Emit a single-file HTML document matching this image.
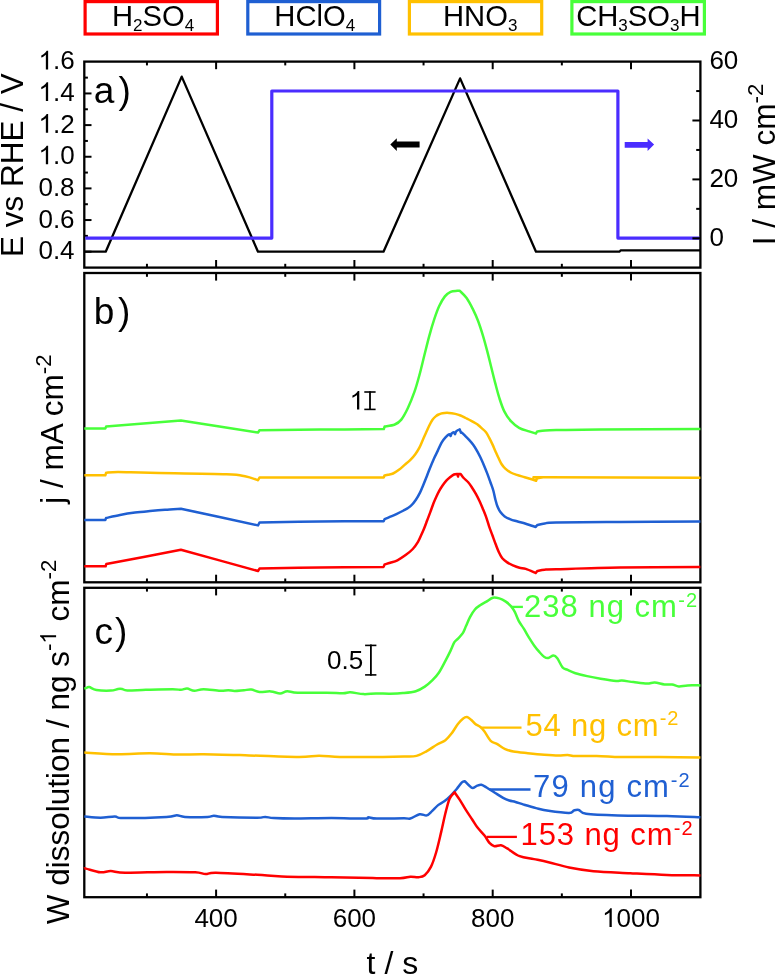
<!DOCTYPE html>
<html><head><meta charset="utf-8"><style>
html,body{margin:0;padding:0;background:#fff;}
svg{display:block;will-change:transform;}
text{font-family:"Liberation Sans",sans-serif;}
</style></head><body>
<svg width="776" height="975" viewBox="0 0 776 975">
<rect width="776" height="975" fill="#fff"/>
<rect x="85.1" y="1.6" width="132.3" height="32.4" fill="none" stroke="#FF0000" stroke-width="3.2"/>
<text x="112" y="25.6" font-size="29.2" text-anchor="start" fill="#000" >H<tspan font-size="17" dy="5.8">2</tspan><tspan dy="-5.8">SO</tspan><tspan font-size="17" dy="5.8">4</tspan></text>
<rect x="247.8" y="1.6" width="131.8" height="32.4" fill="none" stroke="#1F5FD2" stroke-width="3.2"/>
<text x="274.3" y="25.6" font-size="29.2" text-anchor="start" fill="#000" >HClO<tspan font-size="17" dy="5.8">4</tspan></text>
<rect x="409.4" y="1.6" width="132.3" height="32.4" fill="none" stroke="#FFC000" stroke-width="3.2"/>
<text x="443" y="25.6" font-size="29.2" text-anchor="start" fill="#000" >HNO<tspan font-size="17" dy="5.8">3</tspan></text>
<rect x="571.9" y="1.6" width="132.5" height="32.4" fill="none" stroke="#48FF3A" stroke-width="3.2"/>
<text x="576.2" y="25.6" font-size="29.2" text-anchor="start" fill="#000" >CH<tspan font-size="17" dy="5.8">3</tspan><tspan dy="-5.8">SO</tspan><tspan font-size="17" dy="5.8">3</tspan><tspan dy="-5.8">H</tspan></text>
<rect x="84.3" y="61.6" width="616.1" height="206" fill="none" stroke="#000" stroke-width="2.3"/>
<line x1="146.95" y1="267.6" x2="146.95" y2="263.8" stroke="#000" stroke-width="2"/>
<line x1="146.95" y1="61.6" x2="146.95" y2="65.4" stroke="#000" stroke-width="2"/>
<line x1="216.1" y1="267.6" x2="216.1" y2="260" stroke="#000" stroke-width="2"/>
<line x1="216.1" y1="61.6" x2="216.1" y2="69.2" stroke="#000" stroke-width="2"/>
<line x1="285.25" y1="267.6" x2="285.25" y2="263.8" stroke="#000" stroke-width="2"/>
<line x1="285.25" y1="61.6" x2="285.25" y2="65.4" stroke="#000" stroke-width="2"/>
<line x1="354.4" y1="267.6" x2="354.4" y2="260" stroke="#000" stroke-width="2"/>
<line x1="354.4" y1="61.6" x2="354.4" y2="69.2" stroke="#000" stroke-width="2"/>
<line x1="423.55" y1="267.6" x2="423.55" y2="263.8" stroke="#000" stroke-width="2"/>
<line x1="423.55" y1="61.6" x2="423.55" y2="65.4" stroke="#000" stroke-width="2"/>
<line x1="492.7" y1="267.6" x2="492.7" y2="260" stroke="#000" stroke-width="2"/>
<line x1="492.7" y1="61.6" x2="492.7" y2="69.2" stroke="#000" stroke-width="2"/>
<line x1="561.85" y1="267.6" x2="561.85" y2="263.8" stroke="#000" stroke-width="2"/>
<line x1="561.85" y1="61.6" x2="561.85" y2="65.4" stroke="#000" stroke-width="2"/>
<line x1="631" y1="267.6" x2="631" y2="260" stroke="#000" stroke-width="2"/>
<line x1="631" y1="61.6" x2="631" y2="69.2" stroke="#000" stroke-width="2"/>
<rect x="84.3" y="273" width="616.1" height="309.3" fill="none" stroke="#000" stroke-width="2.3"/>
<line x1="146.95" y1="582.3" x2="146.95" y2="578.5" stroke="#000" stroke-width="2"/>
<line x1="146.95" y1="273" x2="146.95" y2="276.8" stroke="#000" stroke-width="2"/>
<line x1="216.1" y1="582.3" x2="216.1" y2="574.7" stroke="#000" stroke-width="2"/>
<line x1="216.1" y1="273" x2="216.1" y2="280.6" stroke="#000" stroke-width="2"/>
<line x1="285.25" y1="582.3" x2="285.25" y2="578.5" stroke="#000" stroke-width="2"/>
<line x1="285.25" y1="273" x2="285.25" y2="276.8" stroke="#000" stroke-width="2"/>
<line x1="354.4" y1="582.3" x2="354.4" y2="574.7" stroke="#000" stroke-width="2"/>
<line x1="354.4" y1="273" x2="354.4" y2="280.6" stroke="#000" stroke-width="2"/>
<line x1="423.55" y1="582.3" x2="423.55" y2="578.5" stroke="#000" stroke-width="2"/>
<line x1="423.55" y1="273" x2="423.55" y2="276.8" stroke="#000" stroke-width="2"/>
<line x1="492.7" y1="582.3" x2="492.7" y2="574.7" stroke="#000" stroke-width="2"/>
<line x1="492.7" y1="273" x2="492.7" y2="280.6" stroke="#000" stroke-width="2"/>
<line x1="561.85" y1="582.3" x2="561.85" y2="578.5" stroke="#000" stroke-width="2"/>
<line x1="561.85" y1="273" x2="561.85" y2="276.8" stroke="#000" stroke-width="2"/>
<line x1="631" y1="582.3" x2="631" y2="574.7" stroke="#000" stroke-width="2"/>
<line x1="631" y1="273" x2="631" y2="280.6" stroke="#000" stroke-width="2"/>
<rect x="84.3" y="587.8" width="616.1" height="309.4" fill="none" stroke="#000" stroke-width="2.3"/>
<line x1="146.95" y1="897.2" x2="146.95" y2="893.4" stroke="#000" stroke-width="2"/>
<line x1="146.95" y1="587.8" x2="146.95" y2="591.6" stroke="#000" stroke-width="2"/>
<line x1="216.1" y1="897.2" x2="216.1" y2="889.6" stroke="#000" stroke-width="2"/>
<line x1="216.1" y1="587.8" x2="216.1" y2="595.4" stroke="#000" stroke-width="2"/>
<line x1="285.25" y1="897.2" x2="285.25" y2="893.4" stroke="#000" stroke-width="2"/>
<line x1="285.25" y1="587.8" x2="285.25" y2="591.6" stroke="#000" stroke-width="2"/>
<line x1="354.4" y1="897.2" x2="354.4" y2="889.6" stroke="#000" stroke-width="2"/>
<line x1="354.4" y1="587.8" x2="354.4" y2="595.4" stroke="#000" stroke-width="2"/>
<line x1="423.55" y1="897.2" x2="423.55" y2="893.4" stroke="#000" stroke-width="2"/>
<line x1="423.55" y1="587.8" x2="423.55" y2="591.6" stroke="#000" stroke-width="2"/>
<line x1="492.7" y1="897.2" x2="492.7" y2="889.6" stroke="#000" stroke-width="2"/>
<line x1="492.7" y1="587.8" x2="492.7" y2="595.4" stroke="#000" stroke-width="2"/>
<line x1="561.85" y1="897.2" x2="561.85" y2="893.4" stroke="#000" stroke-width="2"/>
<line x1="561.85" y1="587.8" x2="561.85" y2="591.6" stroke="#000" stroke-width="2"/>
<line x1="631" y1="897.2" x2="631" y2="889.6" stroke="#000" stroke-width="2"/>
<line x1="631" y1="587.8" x2="631" y2="595.4" stroke="#000" stroke-width="2"/>
<line x1="84.3" y1="251.7" x2="91.5" y2="251.7" stroke="#000" stroke-width="2"/>
<line x1="84.3" y1="235.88" x2="87.9" y2="235.88" stroke="#000" stroke-width="2"/>
<line x1="84.3" y1="220.05" x2="91.5" y2="220.05" stroke="#000" stroke-width="2"/>
<line x1="84.3" y1="204.23" x2="87.9" y2="204.23" stroke="#000" stroke-width="2"/>
<line x1="84.3" y1="188.4" x2="91.5" y2="188.4" stroke="#000" stroke-width="2"/>
<line x1="84.3" y1="172.57" x2="87.9" y2="172.57" stroke="#000" stroke-width="2"/>
<line x1="84.3" y1="156.75" x2="91.5" y2="156.75" stroke="#000" stroke-width="2"/>
<line x1="84.3" y1="140.93" x2="87.9" y2="140.93" stroke="#000" stroke-width="2"/>
<line x1="84.3" y1="125.1" x2="91.5" y2="125.1" stroke="#000" stroke-width="2"/>
<line x1="84.3" y1="109.28" x2="87.9" y2="109.28" stroke="#000" stroke-width="2"/>
<line x1="84.3" y1="93.45" x2="91.5" y2="93.45" stroke="#000" stroke-width="2"/>
<line x1="84.3" y1="77.63" x2="87.9" y2="77.63" stroke="#000" stroke-width="2"/>
<line x1="700.4" y1="238.3" x2="692.4" y2="238.3" stroke="#000" stroke-width="2"/>
<line x1="700.4" y1="208.85" x2="696.2" y2="208.85" stroke="#000" stroke-width="2"/>
<line x1="700.4" y1="179.4" x2="692.4" y2="179.4" stroke="#000" stroke-width="2"/>
<line x1="700.4" y1="149.95" x2="696.2" y2="149.95" stroke="#000" stroke-width="2"/>
<line x1="700.4" y1="120.5" x2="692.4" y2="120.5" stroke="#000" stroke-width="2"/>
<line x1="700.4" y1="91.05" x2="696.2" y2="91.05" stroke="#000" stroke-width="2"/>
<text x="74.6" y="69.4" font-size="26" text-anchor="end" fill="#000" ><tspan class="one">&#x2007;</tspan>.6</text>
<text x="74.6" y="101.05" font-size="26" text-anchor="end" fill="#000" ><tspan class="one">&#x2007;</tspan>.4</text>
<text x="74.6" y="132.7" font-size="26" text-anchor="end" fill="#000" ><tspan class="one">&#x2007;</tspan>.2</text>
<text x="74.6" y="164.35" font-size="26" text-anchor="end" fill="#000" ><tspan class="one">&#x2007;</tspan>.0</text>
<text x="74.6" y="196" font-size="26" text-anchor="end" fill="#000" >0.8</text>
<text x="74.6" y="227.65" font-size="26" text-anchor="end" fill="#000" >0.6</text>
<text x="74.6" y="259.3" font-size="26" text-anchor="end" fill="#000" >0.4</text>
<text x="709.4" y="68.8" font-size="26" text-anchor="start" fill="#000" >60</text>
<text x="709.4" y="127.7" font-size="26" text-anchor="start" fill="#000" >40</text>
<text x="709.4" y="186.6" font-size="26" text-anchor="start" fill="#000" >20</text>
<text x="709.4" y="245.5" font-size="26" text-anchor="start" fill="#000" >0</text>
<text x="216.1" y="927" font-size="26" text-anchor="middle" fill="#000" >400</text>
<text x="354.4" y="927" font-size="26" text-anchor="middle" fill="#000" >600</text>
<text x="492.7" y="927" font-size="26" text-anchor="middle" fill="#000" >800</text>
<text x="631" y="927" font-size="26" text-anchor="middle" fill="#000" ><tspan class="one">&#x2007;</tspan>000</text>
<text x="392.4" y="974.2" font-size="32" text-anchor="middle" fill="#000" >t / s</text>
<text transform="translate(23.2,257.0) rotate(-90)" font-size="31.5">E vs RHE / V</text>
<text transform="translate(775.0,245.2) rotate(-90)" font-size="31.5">I / mW cm<tspan font-size="22.3" dy="-12.5">-2</tspan></text>
<text transform="translate(63.2,503.8) rotate(-90)" font-size="31.5">j / mA cm<tspan font-size="22.3" dy="-12.5">-2</tspan></text>
<text transform="translate(68.6,924.2) rotate(-90)" font-size="31.5">W dissolution / ng s<tspan font-size="22.3" dy="-12.5">-<tspan class="one">&#x2007;</tspan></tspan><tspan dy="12.5" dx="1"> cm</tspan><tspan font-size="22.3" dy="-12.5">-2</tspan></text>
<text x="93.8" y="103.2" font-size="37" text-anchor="start" fill="#000" >a<tspan dx="4.2">)</tspan></text>
<text x="93.8" y="323.8" font-size="37" text-anchor="start" fill="#000" >b<tspan dx="3.5">)</tspan></text>
<text x="94.4" y="644" font-size="37" text-anchor="start" fill="#000" >c<tspan dx="2.2">)</tspan></text>
<path d="M84.3 251.7 L105.7 251.7 L181.7 76.6 L258 251.7 L383.5 251.7 L460.1 78.4 L536 251.7 L619.4 251.7 L620.8 250.3 L700.4 250.3" fill="none" stroke="#000" stroke-width="2.3" stroke-linejoin="round"/>
<path d="M85.3 238.1 L271.8 238.1 L271.8 91 L617.9 91 L617.9 238.1 L699.4 238.1" fill="none" stroke="#4A2DFF" stroke-width="3.2" stroke-linejoin="round"/>
<line x1="700.4" y1="238.3" x2="692.4" y2="238.3" stroke="#000" stroke-width="2"/>
<path d="M390.3 144.5 L396.8 138.2 L396.8 141.5 L419.6 141.5 L419.6 147.5 L396.8 147.5 L396.8 150.9 Z" fill="#000"/>
<path d="M654.1 144.5 L647.6 138.6 L647.6 141.9 L624.7 141.9 L624.7 147.8 L647.6 147.8 L647.6 150.9 Z" fill="#4A2DFF"/>
<path d="M84.3 428.6 C87.8 428.6 101.8 428.6 105.3 428.6 C105.43 428.27 105.97 426.93 106.1 426.6 C118.57 425.57 168.43 421.43 180.9 420.4 C193.75 422.43 245.15 430.57 258 432.6 C258.25 432.22 259.25 430.68 259.5 430.3 C269.58 430.18 299.28 429.8 320 429.6 C340.72 429.4 373.17 429.18 383.8 429.1 C383.93 428.67 384.47 426.93 384.6 426.5 C386.3 426.17 392.02 425.65 394.8 424.5 C397.58 423.35 399.12 422.35 401.3 419.6 C403.48 416.85 405.7 412.65 407.9 408 C410.1 403.35 412.58 397.17 414.5 391.7 C416.42 386.23 417.77 381.23 419.4 375.2 C421.03 369.17 422.65 362.07 424.3 355.5 C425.95 348.93 427.65 341.82 429.3 335.8 C430.95 329.78 432.57 324.32 434.2 319.4 C435.83 314.48 437.32 310.13 439.1 306.3 C440.88 302.47 442.98 298.82 444.9 296.4 C446.82 293.98 448.55 292.73 450.6 291.8 C452.65 290.87 455.7 290.98 457.2 290.8 C458.7 290.62 459.2 290.72 459.6 290.7 C460.77 291.92 464.35 294.85 466.6 298 C468.85 301.15 471.18 305.77 473.1 309.6 C475.02 313.43 476.45 316.63 478.1 321 C479.75 325.37 481.5 330.87 483 335.8 C484.5 340.73 485.73 345.4 487.1 350.6 C488.47 355.8 489.83 361.53 491.2 367 C492.57 372.47 493.93 378.2 495.3 383.4 C496.67 388.6 497.9 393.53 499.4 398.2 C500.9 402.87 502.38 407.57 504.3 411.4 C506.22 415.23 508.43 418.47 510.9 421.2 C513.37 423.93 516.08 426.1 519.1 427.8 C522.12 429.5 526.2 430.45 529 431.4 C531.8 432.35 534.75 433.15 535.9 433.5 C536.12 433.15 536.98 431.75 537.2 431.4 C538.57 431.23 541.6 430.63 545.4 430.4 C549.2 430.17 550.9 430.17 560 430 C569.1 429.83 576.6 429.58 600 429.4 C623.4 429.22 683.67 428.98 700.4 428.9" fill="none" stroke="#48FF3A" stroke-width="2.5" stroke-linejoin="round"/>
<path d="M84.3 475.3 C87.8 475.3 101.8 475.3 105.3 475.3 C105.43 474.88 105.97 473.22 106.1 472.8 C108.08 472.67 110.68 472 118 472 C125.32 472 131.92 472.42 150 472.8 C168.08 473.18 210.67 473.72 226.5 474.3 C242.33 474.88 239.75 475.32 245 476.3 C250.25 477.28 255.83 479.55 258 480.2 C258.25 479.77 259.25 478.03 259.5 477.6 C269.58 477.6 299.3 477.6 320 477.6 C340.7 477.6 373.08 477.6 383.7 477.6 C383.83 477.25 384.37 475.85 384.5 475.5 C385.12 475.37 386.77 475.03 388.2 474.7 C389.63 474.37 391.32 474.32 393.1 473.5 C394.88 472.68 396.98 471.23 398.9 469.8 C400.82 468.37 402.68 466.55 404.6 464.9 C406.52 463.25 408.62 461.68 410.4 459.9 C412.18 458.12 413.8 456.25 415.3 454.2 C416.8 452.15 418.17 449.93 419.4 447.6 C420.63 445.27 421.6 442.67 422.7 440.2 C423.8 437.73 424.9 435.25 426 432.8 C427.1 430.35 428.22 427.68 429.3 425.5 C430.38 423.32 431.38 421.27 432.5 419.7 C433.62 418.13 434.98 416.97 436 416.1 C437.02 415.23 437.53 414.98 438.6 414.5 C439.67 414.02 440.68 413.47 442.4 413.2 C444.12 412.93 446.75 412.78 448.9 412.9 C451.05 413.02 453.37 413.47 455.3 413.9 C457.23 414.33 458.78 414.82 460.5 415.5 C462.22 416.18 463.88 417.15 465.6 418 C467.32 418.85 469.07 419.68 470.8 420.6 C472.53 421.52 474.82 422.8 476 423.5 C477.18 424.2 477.58 424.58 477.9 424.8 C478.43 425.28 479.75 426.45 481.1 427.7 C482.45 428.95 484.67 430.63 486 432.3 C487.33 433.97 488.07 435.77 489.1 437.7 C490.13 439.63 491.17 441.7 492.2 443.9 C493.23 446.1 494.27 448.58 495.3 450.9 C496.33 453.22 497.37 455.62 498.4 457.8 C499.43 459.98 500.35 462.18 501.5 464 C502.65 465.82 503.77 467.28 505.3 468.7 C506.83 470.12 508.77 471.47 510.7 472.5 C512.63 473.53 514.57 474.12 516.9 474.9 C519.23 475.68 522.12 476.43 524.7 477.2 C527.28 477.97 530.5 478.92 532.4 479.5 C534.3 480.08 535.48 480.5 536.1 480.7 C536.25 480.3 536.85 478.7 537 478.3 C537.78 478.18 540.2 477.77 541.7 477.6 C543.2 477.43 519.55 477.27 546 477.3 C572.45 477.33 674.67 477.72 700.4 477.8" fill="none" stroke="#FFC000" stroke-width="2.5" stroke-linejoin="round"/>
<path d="M84.3 520.1 C87.8 520.1 101.8 520.1 105.3 520.1 C105.43 519.75 105.97 518.35 106.1 518 C108.42 517.5 115.18 515.9 120 515 C124.82 514.1 130 513.27 135 512.6 C140 511.93 145 511.48 150 511 C155 510.52 159.85 510.08 165 509.7 C170.15 509.32 178.25 508.87 180.9 508.7 C193.75 511.48 245.15 522.62 258 525.4 C258.25 524.92 259.25 522.98 259.5 522.5 C269.58 522.33 299.32 521.7 320 521.5 C340.68 521.3 373 521.33 383.6 521.3 C383.77 520.95 384.43 519.55 384.6 519.2 C385.55 518.78 388.33 517.55 390.3 516.7 C392.27 515.85 394.18 515.13 396.4 514.1 C398.62 513.07 401.2 511.87 403.6 510.5 C406 509.13 408.75 507.7 410.8 505.9 C412.85 504.1 414.37 501.92 415.9 499.7 C417.43 497.48 418.8 494.98 420 492.6 C421.2 490.22 422.07 487.88 423.1 485.4 C424.13 482.92 425.15 480.35 426.2 477.7 C427.25 475.05 428.12 472.67 429.4 469.5 C430.68 466.33 432.52 461.8 433.9 458.7 C435.28 455.6 436.42 453.58 437.7 450.9 C438.98 448.22 440.3 444.85 441.6 442.6 C442.9 440.35 444.22 438.8 445.5 437.4 C446.78 436 448.45 434.43 449.3 434.2 C450.15 433.97 450.38 435.7 450.6 436 C450.75 435.6 451.35 434 451.5 433.6 C451.88 433.37 453.22 432.1 453.8 432.2 C454.38 432.3 454.8 433.87 455 434.2 C455.17 433.77 455.83 432.03 456 431.6 C456.28 431.38 457.08 430.67 457.7 430.3 C458.32 429.93 459.37 429.55 459.7 429.4 C459.92 429.97 460.78 432.23 461 432.8 C461.13 432.77 461.67 432.63 461.8 432.6 C462.2 432.98 462.98 433.7 464.2 434.9 C465.42 436.1 467.6 438.17 469.1 439.8 C470.6 441.43 471.83 442.78 473.2 444.7 C474.57 446.62 476.07 449.12 477.3 451.3 C478.53 453.48 479.5 455.48 480.6 457.8 C481.7 460.12 482.8 462.6 483.9 465.2 C485 467.8 486.1 470.52 487.2 473.4 C488.3 476.28 489.48 479.65 490.5 482.5 C491.52 485.35 492.47 487.58 493.3 490.5 C494.13 493.42 494.8 497.32 495.5 500 C496.2 502.68 496.65 504.55 497.5 506.6 C498.35 508.65 499.4 510.67 500.6 512.3 C501.8 513.93 503.05 515.23 504.7 516.4 C506.35 517.57 508.45 518.48 510.5 519.3 C512.55 520.12 514.45 520.55 517 521.3 C519.55 522.05 522.68 522.85 525.8 523.8 C528.92 524.75 534.05 526.47 535.7 527 C535.97 526.67 537.03 525.33 537.3 525 C538.53 524.73 541.58 523.82 544.7 523.4 C547.82 522.98 543.45 522.73 556 522.5 C568.55 522.27 595.93 522.15 620 522 C644.07 521.85 687 521.67 700.4 521.6" fill="none" stroke="#1F5FD2" stroke-width="2.5" stroke-linejoin="round"/>
<path d="M84.3 566.3 C87.85 566.3 102.05 566.3 105.6 566.3 C105.72 565.92 106.18 564.38 106.3 564 C118.73 561.63 168.47 552.17 180.9 549.8 C193.75 553.33 245.15 567.47 258 571 C258.25 570.6 259.25 569 259.5 568.6 C269.58 568.42 299.32 567.78 320 567.5 C340.68 567.22 373 567 383.6 566.9 C383.77 566.48 384.43 564.82 384.6 564.4 C385.55 564.13 388.17 563.48 390.3 562.8 C392.43 562.12 394.85 561.58 397.4 560.3 C399.95 559.02 403.03 556.98 405.6 555.1 C408.17 553.22 410.73 551.22 412.8 549 C414.87 546.78 416.63 544.03 418 541.8 C419.37 539.57 419.98 537.82 421 535.6 C422.02 533.38 423.07 531.05 424.1 528.5 C425.13 525.95 426.17 523.03 427.2 520.3 C428.23 517.57 429.28 514.85 430.3 512.1 C431.32 509.35 432.32 506.32 433.3 503.8 C434.28 501.28 435.22 499.15 436.2 497 C437.18 494.85 438.17 492.77 439.2 490.9 C440.23 489.03 441.22 487.52 442.4 485.8 C443.58 484.08 445 482.05 446.3 480.6 C447.6 479.15 448.92 478.12 450.2 477.1 C451.48 476.08 452.78 475.02 454 474.5 C455.22 473.98 456.92 474.08 457.5 474 C457.58 474.43 457.92 476.17 458 476.6 C458.1 476.17 458.5 474.43 458.6 474 C458.93 473.98 460.27 473.92 460.6 473.9 C461.12 474.58 462.43 476.62 463.7 478 C464.97 479.38 466.8 480.58 468.2 482.2 C469.6 483.82 470.8 485.72 472.1 487.7 C473.4 489.68 474.77 491.88 476 494.1 C477.23 496.32 478.4 498.65 479.5 501 C480.6 503.35 481.53 505.63 482.6 508.2 C483.67 510.77 484.82 513.38 485.9 516.4 C486.98 519.42 488.02 523.15 489.1 526.3 C490.18 529.45 491.3 532.3 492.4 535.3 C493.5 538.3 494.6 541.43 495.7 544.3 C496.8 547.17 497.9 550.17 499 552.5 C500.1 554.83 500.93 556.65 502.3 558.3 C503.67 559.95 505.43 561.23 507.2 562.4 C508.97 563.57 510.85 564.42 512.9 565.3 C514.95 566.18 517.35 567.1 519.5 567.7 C521.65 568.3 523.1 568.02 525.8 568.9 C528.5 569.78 534.05 572.32 535.7 573 C535.97 572.65 537.03 571.25 537.3 570.9 C538.53 570.7 541.58 569.97 544.7 569.7 C547.82 569.43 543.45 569.65 556 569.3 C568.55 568.95 595.93 568 620 567.6 C644.07 567.2 687 567.02 700.4 566.9" fill="none" stroke="#FF0000" stroke-width="2.5" stroke-linejoin="round"/>
<text x="349.6" y="409.6" font-size="26" text-anchor="start" fill="#000" ><tspan class="one">&#x2007;</tspan></text>
<line x1="370" y1="391.3" x2="370" y2="410" stroke="#000" stroke-width="1.8"/>
<line x1="364.3" y1="392" x2="375.6" y2="392" stroke="#000" stroke-width="1.6"/>
<line x1="364.3" y1="409.4" x2="375.6" y2="409.4" stroke="#000" stroke-width="1.6"/>
<path d="M84.3 688.5 C84.58 688.43 85.18 688.33 86 688.1 C86.82 687.87 87.47 686.78 89.2 687.1 C90.93 687.42 92.8 689.42 96.4 690 C100 690.58 107.2 690.77 110.8 690.6 C114.4 690.43 116.12 689.27 118 689 C119.88 688.73 120.55 688.77 122.1 689 C123.65 689.23 123.33 690.27 127.3 690.4 C131.27 690.53 138.33 690 145.9 689.8 C153.47 689.6 166.87 689.2 172.7 689.2 C178.53 689.2 178.5 689.9 180.9 689.8 C183.3 689.7 184.87 688.43 187.1 688.6 C189.33 688.77 191.55 690.7 194.3 690.8 C197.05 690.9 199.3 689.2 203.6 689.2 C207.9 689.2 215.98 690.63 220.1 690.8 C224.22 690.97 225.9 690.17 228.3 690.2 C230.7 690.23 231.88 691 234.5 691 C237.12 691 241.22 690.43 244 690.2 C246.78 689.97 248.62 689.32 251.2 689.6 C253.78 689.88 256.23 691.6 259.5 691.9 C262.77 692.2 267.37 691.13 270.8 691.4 C274.23 691.67 277.35 693.53 280.1 693.5 C282.85 693.47 284.38 691.33 287.3 691.2 C290.22 691.07 291.07 692.45 297.6 692.7 C304.13 692.95 318.93 692.6 326.5 692.7 C334.07 692.8 339.05 693.37 343 693.3 C346.95 693.23 346.77 692.17 350.2 692.3 C353.63 692.43 359.3 693.9 363.6 694.1 C367.9 694.3 371.6 693.57 376 693.5 C380.4 693.43 385.52 693.77 390 693.7 C394.48 693.63 398.6 693.52 402.9 693.1 C407.2 692.68 412.15 692.28 415.8 691.2 C419.45 690.12 422.02 688.43 424.8 686.6 C427.58 684.77 430.13 682.55 432.5 680.2 C434.87 677.85 436.85 675.72 439 672.5 C441.15 669.28 443.47 664.55 445.4 660.9 C447.33 657.25 449.1 653.72 450.6 650.6 C452.1 647.48 453.12 644.25 454.4 642.2 C455.68 640.15 456.9 639.8 458.3 638.3 C459.7 636.8 461.52 635.23 462.8 633.2 C464.08 631.17 464.8 628.78 466 626.1 C467.2 623.42 468.48 619.9 470 617.1 C471.52 614.3 473.35 611.32 475.1 609.3 C476.85 607.28 478.62 606.28 480.5 605 C482.38 603.72 484.33 602.82 486.4 601.6 C488.47 600.38 490.75 598.23 492.9 597.7 C495.05 597.17 497.15 597.75 499.3 598.4 C501.45 599.05 503.87 600.32 505.8 601.6 C507.73 602.88 509.4 604.38 510.9 606.1 C512.4 607.82 513.5 609.43 514.8 611.9 C516.1 614.37 517.2 618.1 518.7 620.9 C520.2 623.7 522.08 625.9 523.8 628.7 C525.52 631.5 527.28 634.92 529 637.7 C530.72 640.48 532.38 643.03 534.1 645.4 C535.82 647.77 537.58 649.97 539.3 651.9 C541.02 653.83 542.9 655.98 544.4 657 C545.9 658.02 546.78 658.25 548.3 658 C549.82 657.75 552 655.45 553.5 655.5 C555 655.55 555.8 656.33 557.3 658.3 C558.8 660.27 560.78 665.37 562.5 667.3 C564.22 669.23 565.45 668.92 567.6 669.9 C569.75 670.88 572.15 672.17 575.4 673.2 C578.65 674.23 582.9 675.18 587.1 676.1 C591.3 677.02 595.77 677.88 600.6 678.7 C605.43 679.52 612.55 680.68 616.1 681 C619.65 681.32 619 680.42 621.9 680.6 C624.8 680.78 629.32 681.62 633.5 682.1 C637.68 682.58 643.47 683.43 647 683.5 C650.53 683.57 651.8 682.33 654.7 682.5 C657.6 682.67 661.5 684.17 664.4 684.5 C667.3 684.83 669.68 684.18 672.1 684.5 C674.52 684.82 676.32 686.25 678.9 686.4 C681.48 686.55 684.02 685.57 687.6 685.4 C691.18 685.23 698.27 685.4 700.4 685.4" fill="none" stroke="#48FF3A" stroke-width="2.5" stroke-linejoin="round"/>
<path d="M84.3 752.5 C89.75 752.78 106.05 754.07 117 754.2 C127.95 754.33 139.7 753.23 150 753.3 C160.3 753.37 169.87 754.45 178.8 754.6 C187.73 754.75 191.9 754.07 203.6 754.2 C215.3 754.33 233.2 754.93 249 755.4 C264.8 755.87 286.73 756.93 298.4 757 C310.07 757.07 312.12 755.8 319 755.8 C325.88 755.8 330.75 756.8 339.7 757 C348.65 757.2 361.98 757.07 372.7 757 C383.42 756.93 396.7 756.78 404 756.6 C411.3 756.42 412.7 756.82 416.5 755.9 C420.3 754.98 423.37 753 426.8 751.1 C430.23 749.2 434 746.32 437.1 744.5 C440.2 742.68 443 742.02 445.4 740.2 C447.8 738.38 449.45 736.25 451.5 733.6 C453.55 730.95 455.8 726.78 457.7 724.3 C459.6 721.82 461.35 719.9 462.9 718.7 C464.45 717.5 465.63 716.92 467 717.1 C468.37 717.28 469.72 718.67 471.1 719.8 C472.48 720.93 473.75 722.7 475.3 723.9 C476.85 725.1 478.87 725.73 480.4 727 C481.93 728.27 482.78 729.2 484.5 731.5 C486.22 733.8 488.63 738.73 490.7 740.8 C492.77 742.87 494.48 742.52 496.9 743.9 C499.32 745.28 502.45 747.83 505.2 749.1 C507.95 750.37 509.63 750.82 513.4 751.5 C517.17 752.18 522.65 752.65 527.8 753.2 C532.95 753.75 539.22 754.4 544.3 754.8 C549.38 755.2 554.42 755.57 558.3 755.6 C562.18 755.63 564.7 754.92 567.6 755 C570.5 755.08 570.87 755.95 575.7 756.1 C580.53 756.25 589.25 755.75 596.6 755.9 C603.95 756.05 612.07 756.83 619.8 757 C627.53 757.17 636.43 756.9 643 756.9 C649.57 756.9 649.63 756.92 659.2 757 C668.77 757.08 693.53 757.33 700.4 757.4" fill="none" stroke="#FFC000" stroke-width="2.5" stroke-linejoin="round"/>
<path d="M84.3 816.5 C87 816.7 95.4 817.7 100.5 817.7 C105.6 817.7 111.12 816.43 114.9 816.5 C118.68 816.57 114.6 818.03 123.2 818.1 C131.8 818.17 157.57 817.37 166.5 816.9 C175.43 816.43 173.72 815.3 176.8 815.3 C179.88 815.3 179.85 816.63 185 816.9 C190.15 817.17 202.88 817.1 207.7 816.9 C212.52 816.7 211.5 815.7 213.9 815.7 C216.3 815.7 214.88 816.57 222.1 816.9 C229.32 817.23 249.98 817.7 257.2 817.7 C264.42 817.7 262.65 816.83 265.4 816.9 C268.15 816.97 268.88 817.82 273.7 818.1 C278.52 818.38 284.68 818.6 294.3 818.6 C303.92 818.6 319.72 818.1 331.4 818.1 C343.08 818.1 358.22 818.73 364.4 818.6 C370.58 818.47 366.43 817.3 368.5 817.3 C370.57 817.3 370.88 818.45 376.8 818.6 C382.72 818.75 398.42 818.22 404 818.2 C409.58 818.18 407.7 819.15 410.3 818.5 C412.9 817.85 416.85 814.82 419.6 814.3 C422.35 813.78 424.73 815.92 426.8 815.4 C428.87 814.88 430.12 812.92 432 811.2 C433.88 809.48 436.05 806.75 438.1 805.1 C440.15 803.45 442.23 802.85 444.3 801.3 C446.37 799.75 448.43 797.85 450.5 795.8 C452.57 793.75 454.8 791.23 456.7 789 C458.6 786.77 460.52 783.68 461.9 782.4 C463.28 781.12 464.48 781.48 465 781.3 C465.68 782 467.83 784.37 469.1 785.5 C470.37 786.63 471.23 788.07 472.6 788.1 C473.97 788.13 475.83 786.25 477.3 785.7 C478.77 785.15 479.85 784.5 481.4 784.8 C482.95 785.1 484.37 786.18 486.6 787.5 C488.83 788.82 492.05 790.98 494.8 792.7 C497.55 794.42 500.68 796.5 503.1 797.8 C505.52 799.1 507.23 799.8 509.3 800.5 C511.37 801.2 513.1 801.32 515.5 802 C517.9 802.68 520.27 803.58 523.7 804.6 C527.13 805.62 531.97 807.07 536.1 808.1 C540.23 809.13 543.02 810 548.5 810.8 C553.98 811.6 564.77 812.95 569 812.9 C573.23 812.85 572.27 810.98 573.9 810.5 C575.53 810.02 576.77 809.47 578.8 810 C580.83 810.53 579.58 812.8 586.1 813.7 C592.62 814.6 604.43 815 617.9 815.4 C631.37 815.8 653.15 815.78 666.9 816.1 C680.65 816.42 694.82 817.1 700.4 817.3" fill="none" stroke="#1F5FD2" stroke-width="2.5" stroke-linejoin="round"/>
<path d="M84.3 868.6 C84.58 868.6 83.3 867.98 86 868.6 C88.7 869.22 96.37 871.88 100.5 872.3 C104.63 872.72 106.68 871.03 110.8 871.1 C114.92 871.17 115.92 872.57 125.2 872.7 C134.48 872.83 154.82 871.97 166.5 871.9 C178.18 871.83 188.78 871.95 195.3 872.3 C201.82 872.65 202.15 873.93 205.6 874 C209.05 874.07 207.4 872.57 216 872.7 C224.6 872.83 246.22 874.18 257.2 874.8 C268.18 875.42 269.53 875.98 281.9 876.4 C294.27 876.82 316.27 877.02 331.4 877.3 C346.53 877.58 361.27 877.95 372.7 878.1 C384.13 878.25 393.73 878.42 400 878.2 C406.27 877.98 407.2 876.97 410.3 876.8 C413.4 876.63 416.2 877.47 418.6 877.2 C421 876.93 422.65 876.92 424.7 875.2 C426.75 873.48 429 870.68 430.9 866.9 C432.8 863.12 434.38 858.33 436.1 852.5 C437.82 846.67 439.65 838.43 441.2 831.9 C442.75 825.37 444.02 818.8 445.4 813.3 C446.78 807.8 447.97 802.4 449.5 798.9 C451.03 795.4 453.75 793.4 454.6 792.3 C455.47 793.57 457.9 796.92 459.8 799.9 C461.7 802.88 463.93 806.93 466 810.2 C468.07 813.47 470.32 816.65 472.2 819.5 C474.08 822.35 475.25 824.62 477.3 827.3 C479.35 829.98 482.43 832.95 484.5 835.6 C486.57 838.25 488.05 841.42 489.7 843.2 C491.35 844.98 492.52 845.95 494.4 846.3 C496.28 846.65 498.87 844.95 501 845.3 C503.13 845.65 504.1 846.58 507.2 848.4 C510.3 850.22 515.13 854.42 519.6 856.2 C524.07 857.98 529.18 858.1 534 859.1 C538.82 860.1 542.67 860.8 548.5 862.2 C554.33 863.6 561.5 866 569 867.5 C576.5 869 583.3 870.25 593.5 871.2 C603.7 872.15 617.97 872.58 630.2 873.2 C642.43 873.82 655.2 874.53 666.9 874.9 C678.6 875.27 694.82 875.32 700.4 875.4" fill="none" stroke="#FF0000" stroke-width="2.5" stroke-linejoin="round"/>
<text x="327.1" y="668.6" font-size="26" text-anchor="start" fill="#000" >0.5</text>
<line x1="370.9" y1="644.6" x2="370.9" y2="675.7" stroke="#000" stroke-width="1.8"/>
<line x1="365.1" y1="645.4" x2="376.4" y2="645.4" stroke="#000" stroke-width="1.6"/>
<line x1="365.1" y1="674.9" x2="376.4" y2="674.9" stroke="#000" stroke-width="1.6"/>
<line x1="511.5" y1="606.9" x2="522.9" y2="606.9" stroke="#48FF3A" stroke-width="2.3"/>
<text x="524.1" y="617.3" font-size="31" fill="#48FF3A" letter-spacing="1.0">238 ng cm<tspan font-size="20" dy="-10.7" dx="0.5">-2</tspan></text>
<line x1="481.4" y1="727.6" x2="521.5" y2="727.6" stroke="#FFC000" stroke-width="2.3"/>
<text x="525.4" y="735.8" font-size="31" fill="#FFC000" letter-spacing="0.8">54 ng cm<tspan font-size="20" dy="-10.7" dx="0.5">-2</tspan></text>
<line x1="489.7" y1="789.5" x2="530.5" y2="789.5" stroke="#1F5FD2" stroke-width="2.3"/>
<text x="533" y="797.4" font-size="31" fill="#1F5FD2" letter-spacing="1.2">79 ng cm<tspan font-size="20" dy="-10.7" dx="0.5">-2</tspan></text>
<line x1="486.5" y1="836.9" x2="516.9" y2="836.9" stroke="#FF0000" stroke-width="2.3"/>
<text x="520.5" y="845.4" font-size="31" fill="#FF0000" letter-spacing="0.9">153 ng cm<tspan font-size="20" dy="-10.7" dx="0.5">-2</tspan></text>
<path transform="translate(38.44 69.40) scale(0.01270 -0.01270)" d="M763 0L583 0L583 1147Q518 1085 412.5 1023Q307 961 223 930L223 1104Q374 1175 487 1276Q600 1377 647 1472L763 1472Z" fill="rgb(0, 0, 0)"/>
<path transform="translate(38.44 101.05) scale(0.01270 -0.01270)" d="M763 0L583 0L583 1147Q518 1085 412.5 1023Q307 961 223 930L223 1104Q374 1175 487 1276Q600 1377 647 1472L763 1472Z" fill="rgb(0, 0, 0)"/>
<path transform="translate(38.44 132.70) scale(0.01270 -0.01270)" d="M763 0L583 0L583 1147Q518 1085 412.5 1023Q307 961 223 930L223 1104Q374 1175 487 1276Q600 1377 647 1472L763 1472Z" fill="rgb(0, 0, 0)"/>
<path transform="translate(38.44 164.35) scale(0.01270 -0.01270)" d="M763 0L583 0L583 1147Q518 1085 412.5 1023Q307 961 223 930L223 1104Q374 1175 487 1276Q600 1377 647 1472L763 1472Z" fill="rgb(0, 0, 0)"/>
<path transform="translate(602.07 927.00) scale(0.01270 -0.01270)" d="M763 0L583 0L583 1147Q518 1085 412.5 1023Q307 961 223 930L223 1104Q374 1175 487 1276Q600 1377 647 1472L763 1472Z" fill="rgb(0, 0, 0)"/>
<path transform="translate(68.6,924.2) rotate(-90) translate(280.56 -12.50) scale(0.01089 -0.01089)" d="M763 0L583 0L583 1147Q518 1085 412.5 1023Q307 961 223 930L223 1104Q374 1175 487 1276Q600 1377 647 1472L763 1472Z" fill="rgb(0, 0, 0)"/>
<path transform="translate(349.60 409.60) scale(0.01270 -0.01270)" d="M763 0L583 0L583 1147Q518 1085 412.5 1023Q307 961 223 930L223 1104Q374 1175 487 1276Q600 1377 647 1472L763 1472Z" fill="rgb(0, 0, 0)"/>
</svg>
</body></html>
